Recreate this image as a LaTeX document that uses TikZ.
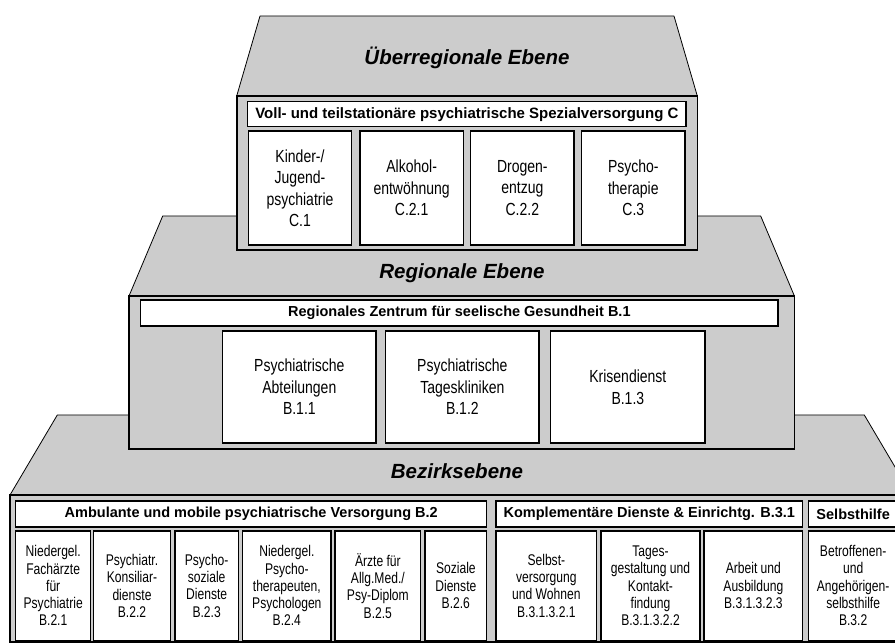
\documentclass[tikz,border=0pt]{standalone}
\usepackage{fontspec}
\setmainfont{Liberation Sans}
\newfontfamily\narrowsans[FakeStretch=0.8]{Liberation Sans}
\newfontfamily\narrowsansb[FakeStretch=0.78]{Liberation Sans}
\definecolor{lvgray}{RGB}{204,204,204}
\newcommand\bx[7]{\node[#1, minimum width={#5pt-#3pt}, minimum height={#6pt-#4pt}] (#2) at ({(#3+#5)/2},{(#4+#6)/2}) {#7};}
\tikzset{
  roof/.style={fill=lvgray, draw=black, line width=0.8pt, line join=round},
  level/.style={fill=lvgray, draw=black, line width=1.6pt},
  hdr/.style={draw=black, fill=white, line width=1.2pt, inner sep=0pt, font=\bfseries\fontsize{14.5}{16}\selectfont},
  hdrtop/.style={hdr, font=\bfseries\fontsize{15}{16}\selectfont},
  cellbig/.style={draw=black, fill=white, line width=1.2pt, inner sep=0pt, align=center, font=\narrowsans\fontsize{17.5}{21.5}\selectfont},
  cellsmall/.style={draw=black, fill=white, line width=1.2pt, inner sep=0pt, align=center, font=\narrowsansb\fontsize{15.5}{17.3}\selectfont},
  leveltitle/.style={font=\bfseries\itshape\fontsize{20.5}{24}\selectfont}
}
\begin{document}
\begin{tikzpicture}[x=1pt,y=-1pt]
\useasboundingbox (0,0) rectangle (895,644);
\clip (0,0) rectangle (895,644);
\fill[white] (0,0) rectangle (895,644);
% ---------- Bezirksebene ----------
\draw[roof] (57.3,415) -- (864.3,415) -- (911.6,495) -- (10,495) -- cycle;
\draw[level] (10,495) rectangle (912,642);
\node[leveltitle] (tb) at (457,471) {Bezirksebene};
\bx{hdr}{hamb}{15.7}{501}{486.7}{527}{Ambulante und mobile psychiatrische Versorgung B.2}
\bx{hdr}{hkom}{496}{501}{802.7}{527}{Komplementäre Dienste \& Einrichtg. B.3.1}
\bx{hdr}{hsel}{808.3}{501}{898}{527}{Selbsthilfe}
\bx{cellsmall}{b21}{15.7}{531}{90.7}{640.5}{Niedergel.\\Fachärzte\\für\\Psychiatrie\\B.2.1}
\bx{cellsmall}{b22}{93.3}{531}{170.7}{640.5}{Psychiatr.\\Konsiliar-\\dienste\\B.2.2}
\bx{cellsmall}{b23}{175}{531}{238.3}{640.5}{Psycho-\\soziale\\Dienste\\B.2.3}
\bx{cellsmall}{b24}{242.7}{531}{331}{640.5}{Niedergel.\\Psycho-\\therapeuten,\\Psychologen\\B.2.4}
\bx{cellsmall}{b25}{335}{531}{420.7}{640.5}{Ärzte für\\Allg.Med./\\Psy-Diplom\\B.2.5}
\bx{cellsmall}{b26}{425}{531}{486.7}{640.5}{Soziale\\Dienste\\B.2.6}
\bx{cellsmall}{b311}{496}{531}{596.7}{640.5}{Selbst-\\versorgung\\und Wohnen\\B.3.1.3.2.1}
\bx{cellsmall}{b312}{601}{531}{700}{640.5}{Tages-\\gestaltung und\\Kontakt-\\findung\\B.3.1.3.2.2}
\bx{cellsmall}{b313}{704}{531}{802.7}{640.5}{Arbeit und\\Ausbildung\\B.3.1.3.2.3}
\bx{cellsmall}{b32}{808.3}{531}{898}{640.5}{Betroffenen-\\und\\Angehörigen-\\selbsthilfe\\B.3.2}
% ---------- Regionale Ebene ----------
\draw[roof] (162.7,216) -- (760.7,216) -- (794.4,296) -- (129,296) -- cycle;
\draw[level] (129,296) rectangle (794.4,449);
\node[leveltitle] (tr) at (462,273) {Regionale Ebene};
\bx{hdr}{hreg}{140.7}{300}{778}{326}{Regionales Zentrum für seelische Gesundheit B.1}
\bx{cellbig}{r11}{222.7}{331}{376}{443}{Psychiatrische\\Abteilungen\\B.1.1}
\bx{cellbig}{r12}{385.7}{331}{539}{443}{Psychiatrische\\Tageskliniken\\B.1.2}
\bx{cellbig}{r13}{550.7}{331}{705}{443}{Krisendienst\\B.1.3}
% ---------- Überregionale Ebene ----------
\draw[roof] (260,16) -- (674,16) -- (697.3,96) -- (236.7,96) -- cycle;
\draw[level] (236.7,96) rectangle (697.3,250);
\node[leveltitle] (tu) at (467,58) {Überregionale Ebene};
\bx{hdrtop}{hueb}{247.7}{101.7}{686}{126.7}{Voll- und teilstationäre psychiatrische Spezialversorgung C}
\bx{cellbig}{c1}{248.3}{131}{351.7}{245}{Kinder-/\\Jugend-\\psychiatrie\\C.1}
\bx{cellbig}{c21}{360}{131}{463.3}{245}{Alkohol-\\entwöhnung\\C.2.1}
\bx{cellbig}{c22}{470.7}{131}{574}{245}{Drogen-\\entzug\\C.2.2}
\bx{cellbig}{c3}{581.7}{131}{685}{245}{Psycho-\\therapie\\C.3}
\end{tikzpicture}
\end{document}
